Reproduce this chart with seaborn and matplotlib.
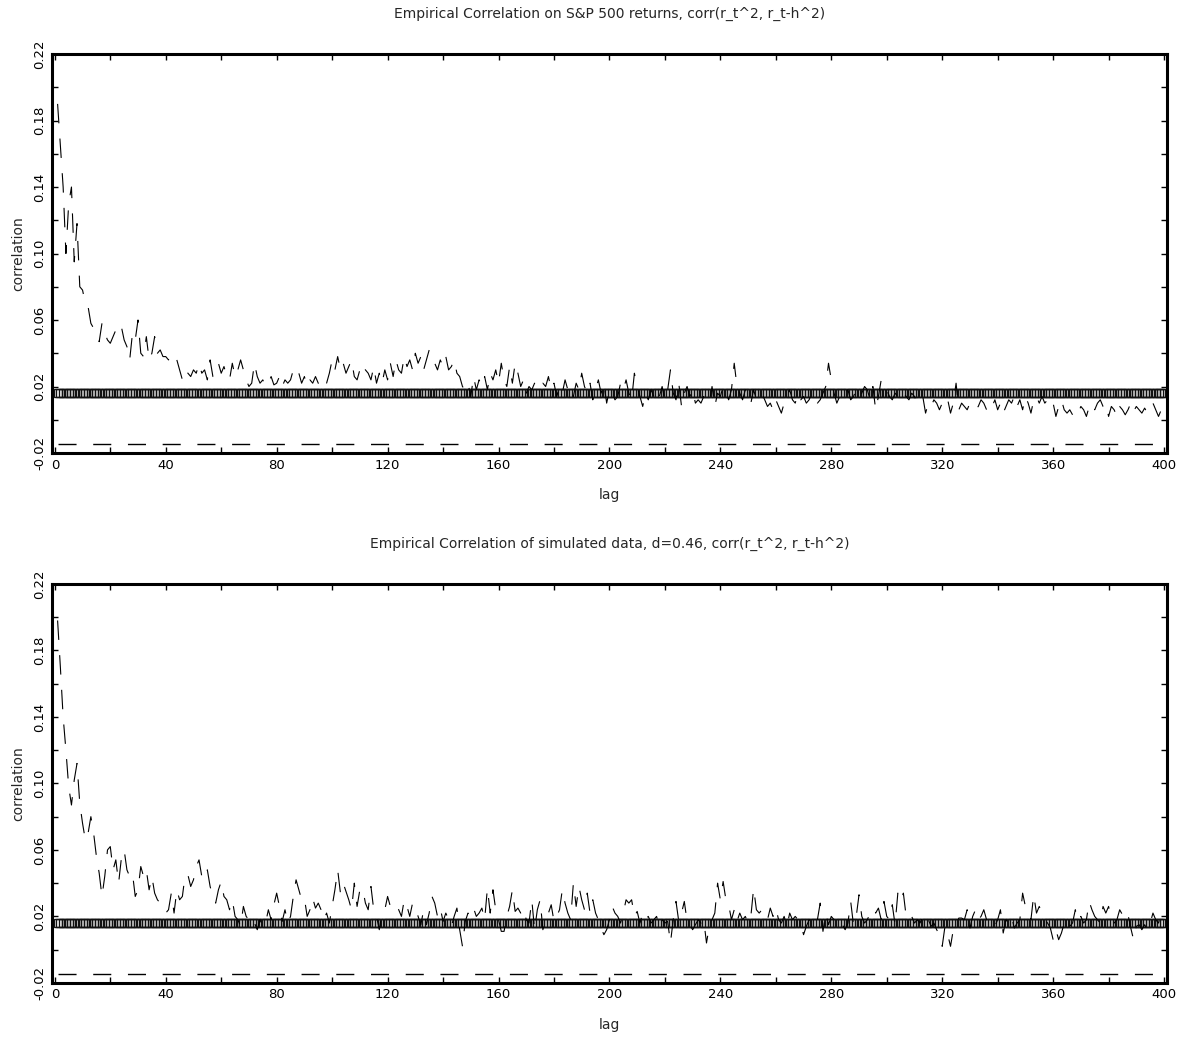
import numpy as np
import pandas as pd
import matplotlib
matplotlib.use("Agg")
import matplotlib.pyplot as plt
from matplotlib.ticker import MultipleLocator
import seaborn as sns

# lags 1..400, correlations in units of 1e-3
lags = np.arange(1, 401)

sp500_corr = np.array([
    190, 165, 140, 100, 130, 140, 95, 118, 80, 78,
    70, 68, 58, 55, 50, 47, 58, 52, 48, 46,
    50, 54, 52, 56, 48, 44, 36, 52, 48, 60,
    40, 38, 50, 36, 40, 50, 40, 42, 38, 38,
    36, 38, 34, 36, 30, 24, 30, 28, 26, 30,
    28, 34, 28, 30, 24, 36, 26, 30, 34, 28,
    32, 26, 24, 34, 26, 30, 36, 30, 24, 20,
    22, 34, 26, 22, 24, 20, 22, 26, 21, 22,
    26, 20, 24, 22, 24, 30, 26, 28, 22, 26,
    20, 24, 22, 26, 22, 20, 24, 22, 28, 36,
    30, 38, 30, 34, 28, 32, 36, 26, 24, 30,
    34, 30, 28, 24, 32, 22, 28, 22, 30, 24,
    34, 26, 36, 30, 28, 38, 32, 36, 30, 40,
    34, 38, 30, 36, 42, 38, 34, 30, 36, 32,
    38, 30, 32, 36, 28, 26, 20, 18, 22, 14,
    26, 18, 24, 20, 26, 18, 28, 24, 30, 22,
    34, 24, 20, 32, 22, 34, 28, 20, 24, 16,
    20, 18, 22, 20, 18, 22, 20, 26, 18, 22,
    14, 20, 16, 24, 18, 20, 14, 22, 18, 28,
    20, 16, 22, 12, 18, 24, 16, 22, 10, 18,
    16, 12, 14, 22, 18, 24, 16, 12, 28, 20,
    14, 8, 16, 12, 18, 14, 10, 14, 20, 12,
    18, 30, 16, 12, 22, 8, 16, 20, 14, 18,
    10, 12, 10, 14, 12, 10, 20, 8, 16, 14,
    20, 16, 12, 18, 34, 20, 16, 12, 18, 14,
    10, 18, 12, 14, 16, 12, 8, 10, 6, 12,
    8, 4, 10, 14, 18, 12, 10, 16, 12, 14,
    10, 12, 16, 14, 10, 12, 16, 20, 34, 24,
    16, 10, 14, 12, 16, 18, 12, 14, 18, 14,
    16, 20, 18, 12, 20, 6, 14, 24, 22, 18,
    14, 12, 16, 14, 12, 16, 14, 12, 16, 14,
    10, 12, 14, 4, 10, 8, 12, 10, 6, 10,
    8, 12, 4, 10, 22, 6, 10, 8, 6, 10,
    8, 6, 8, 12, 10, 6, 10, 8, 12, 6,
    10, 4, 8, 12, 10, 14, 8, 12, 6, 14,
    10, 4, 12, 14, 10, 14, 10, 12, 14, 10,
    2, 8, 12, 6, 4, 6, 3, 6, 4, 8,
    6, 2, 8, 10, 6, 10, 12, 8, 10, 2,
    8, 6, 2, 8, 6, 3, 6, 10, 5, 8,
    6, 4, 7, 4, 8, 10, 6, 2, 6, 3,
]) / 1000

sim_corr = np.array([
    198, 170, 140, 120, 98, 87, 102, 112, 88, 76,
    66, 70, 80, 70, 56, 46, 32, 44, 60, 62,
    48, 54, 40, 55, 60, 48, 44, 46, 32, 36,
    50, 44, 48, 36, 44, 34, 30, 28, 24, 22,
    24, 34, 22, 36, 30, 32, 45, 45, 38, 42,
    50, 54, 44, 42, 48, 38, 32, 28, 36, 41,
    32, 30, 24, 30, 20, 18, 14, 26, 20, 18,
    14, 16, 12, 18, 14, 16, 24, 18, 27, 34,
    26, 17, 24, 16, 20, 32, 42, 36, 30, 31,
    20, 24, 31, 25, 28, 24, 18, 22, 16, 26,
    36, 48, 34, 40, 35, 30, 24, 40, 26, 36,
    37, 28, 24, 38, 24, 20, 12, 22, 24, 32,
    26, 28, 28, 24, 20, 30, 26, 20, 28, 26,
    20, 15, 24, 15, 22, 32, 28, 20, 25, 17,
    22, 18, 14, 20, 25, 12, 2, 17, 22, 20,
    25, 20, 22, 25, 18, 37, 22, 36, 24, 18,
    11, 11, 20, 26, 36, 23, 25, 22, 25, 18,
    16, 30, 12, 24, 30, 12, 18, 22, 27, 17,
    20, 24, 36, 28, 22, 18, 40, 26, 38, 30,
    24, 34, 22, 30, 22, 18, 13, 9, 12, 18,
    26, 22, 20, 16, 22, 30, 28, 30, 20, 23,
    16, 22, 18, 20, 16, 18, 20, 14, 18, 16,
    17, 4, 18, 29, 17, 22, 29, 17, 15, 12,
    15, 18, 16, 18, 4, 14, 18, 22, 40, 30,
    41, 30, 27, 18, 24, 17, 22, 18, 20, 16,
    20, 37, 24, 22, 24, 22, 18, 25, 20, 25,
    18, 16, 20, 14, 22, 18, 20, 18, 16, 9,
    14, 18, 16, 20, 18, 28, 11, 22, 15, 20,
    18, 16, 18, 15, 12, 16, 29, 15, 20, 33,
    20, 16, 18, 22, 25, 22, 25, 18, 29, 20,
    18, 27, 15, 34, 29, 34, 20, 18, 20, 16,
    18, 16, 20, 16, 18, 14, 16, 12, 9, 2,
    14, 9, 2, 12, 16, 19, 19, 18, 24, 13,
    20, 24, 18, 20, 24, 18, 16, 17, 14, 18,
    24, 10, 18, 16, 20, 13, 16, 18, 34, 26,
    24, 18, 33, 22, 26, 22, 18, 16, 13, 6,
    12, 6, 10, 16, 18, 14, 16, 24, 17, 20,
    16, 18, 29, 24, 20, 18, 16, 26, 22, 26,
    18, 16, 18, 24, 21, 24, 21, 13, 6, 14,
    15, 12, 15, 12, 16, 22, 18, 16, 22, 25,
]) / 1000

upper_bound = 0.0158
lower_bound = -0.0148

titles = [
    "Empirical Correlation on S&P 500 returns, corr(r_t^2, r_t-h^2)",
    "Empirical Correlation of simulated data, d=0.46, corr(r_t^2, r_t-h^2)",
]

sns.set_theme(style="white")
plt.rcParams["font.family"] = ["DejaVu Sans"]
plt.rcParams["lines.scale_dashes"] = False

fig = plt.figure(figsize=(11.91, 10.39), dpi=100)
ax_top = fig.add_axes([0.0437, 0.564, 0.936, 0.384])
ax_bot = fig.add_axes([0.0437, 0.054, 0.936, 0.384])

for ax, corr, title in zip([ax_top, ax_bot], [sp500_corr, sim_corr], titles):
    df = pd.DataFrame({"lag": lags, "corr": corr,
                       "upper": upper_bound, "lower": lower_bound})

    # upper bound drawn as a row of hollow squares, one per lag
    sns.lineplot(data=df, x="lag", y="upper", ax=ax, color="black", lw=0,
                 marker="s", markersize=6.0, markerfacecolor="none",
                 markeredgecolor="#111111", markeredgewidth=1.0)
    sns.lineplot(data=df, x="lag", y="lower", ax=ax, color="black", lw=1.0,
                 linestyle=(0, (13, 12)))
    sns.lineplot(data=df, x="lag", y="corr", ax=ax, color="black", lw=0.8,
                 linestyle=(0, (14, 11)))

    ax.set_xlim(-1, 401)
    ax.set_ylim(-0.02, 0.22)
    ax.xaxis.set_major_locator(MultipleLocator(40))
    ax.xaxis.set_minor_locator(MultipleLocator(20))
    ax.set_yticks(np.arange(-0.02, 0.221, 0.04))
    ax.yaxis.set_minor_locator(MultipleLocator(0.02))
    ax.set_xticklabels([f"{int(round(t))}" for t in ax.get_xticks()])
    ax.set_yticklabels([f"{t:.2f}" for t in ax.get_yticks()],
                       rotation=90, va="center")
    ax.tick_params(which="both", direction="in", length=4, width=1,
                   top=True, right=True, bottom=True, left=True,
                   labelsize=9.5, pad=4, colors="black")
    for s in ax.spines.values():
        s.set_linewidth(2.2)
        s.set_color("black")
    ax.set_title(title, fontsize=10, pad=26)
    ax.set_xlabel("lag", fontsize=10, labelpad=12)
    ax.set_ylabel("correlation", fontsize=10, labelpad=6)

fig.savefig("out.png", dpi=100)
